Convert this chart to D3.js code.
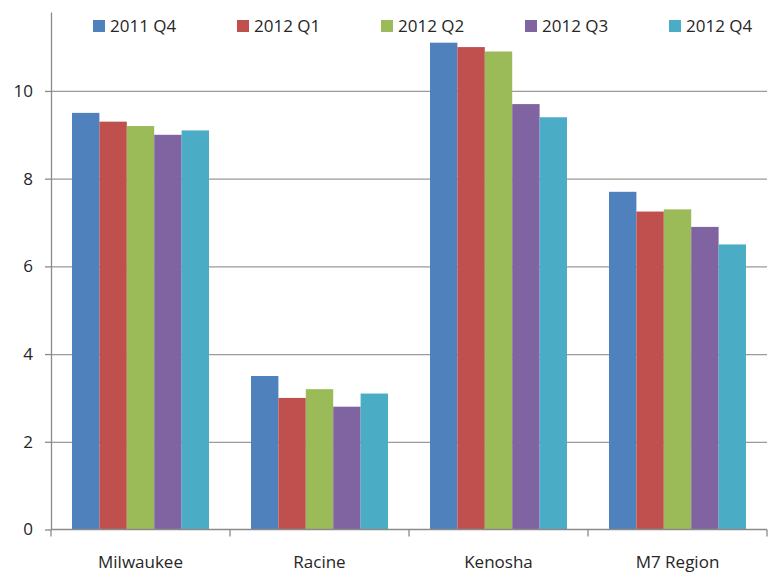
<!DOCTYPE html>
<html>
<head>
<meta charset="utf-8">
<script src="https://cdn.jsdelivr.net/npm/d3@7"></script>
<style>
    body { margin: 0; background: #fff; }
    svg.main text { font-family: "Open Sans", sans-serif; fill: #262626; }
    .grid line { stroke: #9a9a9a; stroke-width: 1.3; }
    .axis path, .axis line { stroke: #8a8a8a; stroke-width: 1.3; }
</style>
</head>
<body>
<script>
var categories = ["Milwaukee", "Racine", "Kenosha", "M7 Region"];
var series = ["2011 Q4", "2012 Q1", "2012 Q2", "2012 Q3", "2012 Q4"];
var colors = ["#4f81bd", "#c0504d", "#9bbb59", "#8064a2", "#4bacc6"];

// one array per quarter, in category order
var q4_2011 = [9.5, 3.5, 11.1, 7.7];
var q1_2012 = [9.3, 3.0, 11.0, 7.25];
var q2_2012 = [9.2, 3.2, 10.9, 7.3];
var q3_2012 = [9.0, 2.8, 9.7, 6.9];
var q4_2012 = [9.1, 3.1, 9.4, 6.5];
var values = [q4_2011, q1_2012, q2_2012, q3_2012, q4_2012];

var yTicks = [0, 2, 4, 6, 8, 10];

var W = 769, H = 573;
var plotL = 51, plotR = 767, plotT = 12, plotB = 529.5;

var svg = d3.select("body").append("svg")
    .attr("class", "main")
    .attr("width", W)
    .attr("height", H);

var y = d3.scaleLinear().domain([0, 11.8]).range([plotB, plotT]);

var gap = 0.2346;
var x0 = d3.scaleBand().domain(categories).range([plotL, plotR])
    .paddingInner(gap).paddingOuter(gap / 2);
var x1 = d3.scaleBand().domain(series).range([0, x0.bandwidth()]);

// gridlines
svg.append("g")
    .attr("class", "grid")
    .attr("transform", "translate(" + plotL + ",0)")
    .call(d3.axisLeft(y).tickValues(yTicks.slice(1)).tickSize(-(plotR - plotL)).tickFormat(""))
    .call(function (g) { g.select(".domain").remove(); });

// bars
series.forEach(function (s, i) {
    svg.append("g")
        .attr("fill", colors[i])
        .selectAll("rect")
        .data(values[i])
        .join("rect")
        .attr("x", function (d, j) { return x0(categories[j]) + x1(s); })
        .attr("y", function (d) { return y(d); })
        .attr("width", x1.bandwidth())
        .attr("height", function (d) { return plotB - y(d); });
});

// y axis
var yAxis = svg.append("g")
    .attr("class", "axis")
    .attr("transform", "translate(" + plotL + ",0)")
    .call(d3.axisLeft(y).tickValues(yTicks).tickSize(6).tickPadding(12).tickSizeOuter(0));
yAxis.selectAll("text").style("font-size", "17px");

// x axis: ticks on category boundaries
var half = x0.step() * gap / 2;
var bounds = categories.map(function (c) { return x0(c) - half; });
bounds.push(plotR);
var xAxis = svg.append("g").attr("class", "axis");
xAxis.append("line")
    .attr("x1", plotL).attr("x2", plotR)
    .attr("y1", plotB).attr("y2", plotB);
xAxis.selectAll("line.tick")
    .data(bounds)
    .join("line")
    .attr("class", "tick")
    .attr("x1", function (d) { return d; }).attr("x2", function (d) { return d; })
    .attr("y1", plotB).attr("y2", plotB + 7);
xAxis.selectAll("text")
    .data(categories)
    .join("text")
    .attr("x", function (d) { return x0(d) + x0.bandwidth() / 2; })
    .attr("y", 568)
    .attr("text-anchor", "middle")
    .style("font-size", "17px")
    .text(function (d) { return d; });

// legend
var legend = svg.append("g").selectAll("g")
    .data(series)
    .join("g")
    .attr("transform", function (d, i) { return "translate(" + (93 + i * 144) + ",20)"; });
legend.append("rect")
    .attr("width", 12).attr("height", 12)
    .attr("fill", function (d, i) { return colors[i]; });
legend.append("text")
    .attr("x", 17).attr("y", 12)
    .style("font-size", "17px")
    .text(function (d) { return d; });
</script>
</body>
</html>
